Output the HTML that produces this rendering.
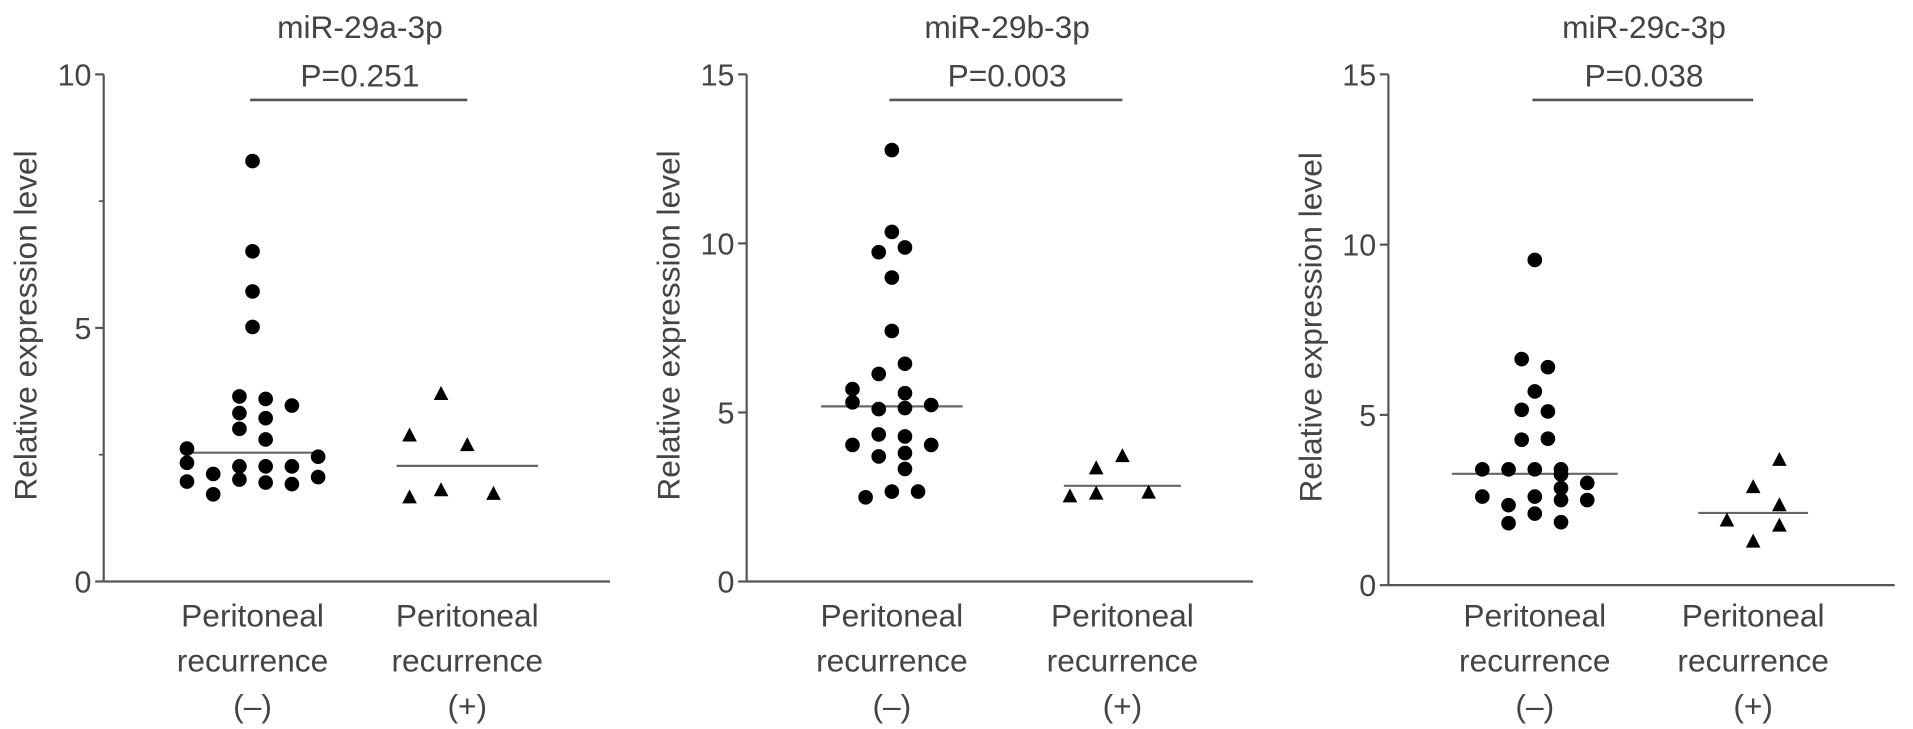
<!DOCTYPE html>
<html><head><meta charset="utf-8"><style>
body{margin:0;background:#fff;}
svg{display:block;font-family:"Liberation Sans",sans-serif;}
</style></head><body>
<svg id="chart" width="1913" height="729" viewBox="0 0 1568 598" preserveAspectRatio="none"></svg>
<script>
// Panel A: miR-29a-3p
const aNegVals=[8.29,6.51,5.72,5.02,3.65,3.60,3.47,3.32,3.22,3.01,2.80,2.62,2.46,2.34,2.27,2.27,2.27,2.12,2.01,2.06,1.97,1.72,1.95,1.92];
const aNegCols=[0,0,0,0,-0.5,0.5,1.5,-0.5,0.5,-0.5,0.5,-2.5,2.5,-2.5,-0.5,0.5,1.5,-1.5,-0.5,2.5,-2.5,-1.5,0.5,1.5];
const aPosVals=[3.70,2.88,2.69,1.66,1.80,1.73];
const aPosCols=[-1,-2.2,0,-2.2,-1,1];
const aMedians=[2.54,2.28];
const aTicks=[0,5,10];
// Panel B: miR-29b-3p
const bNegVals=[12.76,10.34,9.74,9.88,8.99,7.41,6.44,6.14,5.69,5.57,5.30,5.10,5.13,5.22,4.35,4.29,4.04,4.04,3.70,3.80,3.33,2.49,2.66,2.66];
const bNegCols=[0,0,-0.5,0.5,0,0,0.5,-0.5,-1.5,0.5,-1.5,-0.5,0.5,1.5,-0.5,0.5,-1.5,1.5,-0.5,0.5,0.5,-1,0,1];
const bPosVals=[3.35,3.71,2.52,2.60,2.63];
const bPosCols=[-1,0,-2,-1,1];
const bMedians=[5.18,2.83];
const bTicks=[0,5,10,15];
// Panel C: miR-29c-3p
const cNegVals=[9.55,6.64,6.40,5.69,5.15,5.10,4.27,4.30,3.40,3.40,3.40,3.40,3.25,2.6,2.35,1.82,2.6,2.1,2.85,2.5,1.85,2.5,3.0];
const cNegCols=[0,-0.5,0.5,0,-0.5,0.5,-0.5,0.5,-2,-1,0,1,1,-2,-1,-1,0,0,1,1,1,2,2];
const cPosVals=[3.68,2.88,2.35,1.90,1.75,1.28];
const cPosCols=[1,0,1,-1,1,0];
const cMedians=[3.27,2.12];
const cTicks=[0,5,10,15];
const titles=["miR-29a-3p","miR-29b-3p","miR-29c-3p"];
const pvals=["P=0.251","P=0.003","P=0.038"];

const NS="http://www.w3.org/2000/svg";
const svg=document.getElementById('chart');
function mk(tag,attrs,parent){const e=document.createElementNS(NS,tag);for(const k in attrs)e.setAttribute(k,attrs[k]);(parent||svg).appendChild(e);return e;}
const FS=26;
const panels=[
 {ax:85,y0:477,yTop:61,max:10,c1:207,c2:383,xEnd:500,minor:[2.5,7.5],neg:aNegVals,negC:aNegCols,pos:aPosVals,posC:aPosCols,med:aMedians,ticks:aTicks,half1:55,half2:58},
 {ax:612,y0:477,yTop:61,max:15,c1:731,c2:920,xEnd:1027,minor:[],neg:bNegVals,negC:bNegCols,pos:bPosVals,posC:bPosCols,med:bMedians,ticks:bTicks,half1:58,half2:48},
 {ax:1138,y0:480,yTop:61,max:15,c1:1258,c2:1437,xEnd:1553,minor:[],neg:cNegVals,negC:cNegCols,pos:cPosVals,posC:cPosCols,med:cMedians,ticks:cTicks,half1:68,half2:45}
];
const colW=21.5;
panels.forEach((p,i)=>{
  const g=mk('g',{});
  
  
  const y=v=>p.y0-(v/p.max)*(p.y0-p.yTop);
  const ax=mk('line',{x1:p.ax,y1:p.yTop,x2:p.ax,y2:p.y0,stroke:'#555','stroke-width':1.8},g);
  
  
  const xa=mk('line',{x1:p.ax,y1:p.y0,x2:p.xEnd,y2:p.y0,stroke:'#555','stroke-width':1.8},g);
  
  
  p.ticks.forEach(t=>{
    const tk=mk('line',{x1:p.ax-7,y1:y(t),x2:p.ax,y2:y(t),stroke:'#555','stroke-width':1.8},g);
    
    
    const tl=mk('text',{x:p.ax-10,y:y(t)+9,'text-anchor':'end','font-size':25,fill:'#444'},g);
    tl.textContent=t;
    
    
  });
  p.minor.forEach(t=>{
    const tk=mk('line',{x1:p.ax-4,y1:y(t),x2:p.ax,y2:y(t),stroke:'#555','stroke-width':1.4},g);
    
    
  });
  const yt=mk('text',{transform:`translate(${p.ax-55},${(p.y0+p.yTop)/2-2}) rotate(-90)`,'text-anchor':'middle','font-size':FS,fill:'#444'},g);
  yt.textContent='Relative expression level';
  
  
  const ti=mk('text',{x:(p.c1+p.c2)/2,y:31,'text-anchor':'middle','font-size':FS,fill:'#444'},g);
  ti.textContent=titles[i];
  
  
  const pl=mk('line',{x1:p.c1-2,y1:82,x2:p.c2,y2:82,stroke:'#555','stroke-width':2.2},g);
  
  
  const pt=mk('text',{x:(p.c1+p.c2)/2,y:71,'text-anchor':'middle','font-size':FS,fill:'#444'},g);
  pt.textContent=pvals[i];
  
  
  [[p.c1,'(–)'],[p.c2,'(+)']].forEach(([cx,s])=>{
    ['Peritoneal','recurrence',s].forEach((w,k)=>{
      const t=mk('text',{x:cx,y:514+k*37,'text-anchor':'middle','font-size':FS,fill:'#444'},g);
      t.textContent=w;
      
      
    });
  });
  const m1=mk('line',{x1:p.c1-p.half1,y1:y(p.med[0]),x2:p.c1+p.half1,y2:y(p.med[0]),stroke:'#666','stroke-width':1.8},g);
  
  
  const m2=mk('line',{x1:p.c2-p.half2,y1:y(p.med[1]),x2:p.c2+p.half2,y2:y(p.med[1]),stroke:'#666','stroke-width':1.8},g);
  
  
  p.neg.forEach((v,k)=>{
    const c=mk('circle',{cx:p.c1+p.negC[k]*colW,cy:y(v),r:6,fill:'#000'},g);
    
    
  });
  p.pos.forEach((v,k)=>{
    const cx=p.c2+p.posC[k]*colW, cy=y(v);
    const t=mk('polygon',{points:`${cx},${cy-6.5} ${cx-6},${cy+5} ${cx+6},${cy+5}`,fill:'#000'},g);
    
    
  });
});
</script>
</body></html>
